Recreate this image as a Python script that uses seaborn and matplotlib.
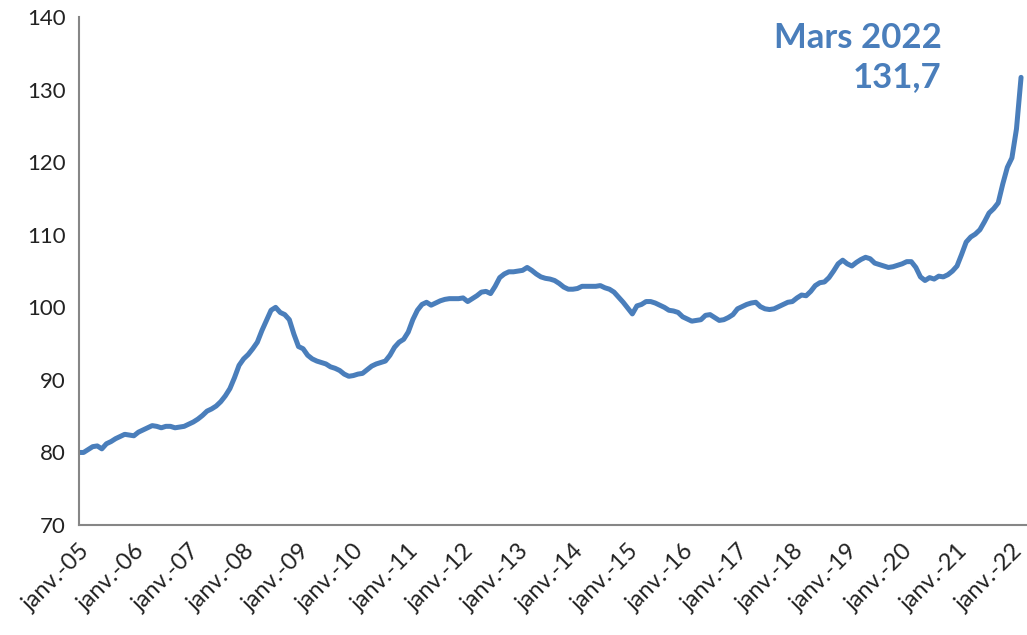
import numpy as np
import pandas as pd
import matplotlib
matplotlib.use("Agg")
import matplotlib.pyplot as plt
import seaborn as sns

# valeurs mensuelles (janv. 2005 -> mars 2022)
y2005 = [80.0, 80.0, 80.4, 80.8, 80.9, 80.5, 81.2, 81.5, 81.9, 82.2, 82.5, 82.4]
y2006 = [82.3, 82.8, 83.1, 83.4, 83.7, 83.6, 83.4, 83.6, 83.6, 83.4, 83.5, 83.6]
y2007 = [83.9, 84.2, 84.6, 85.1, 85.7, 86.0, 86.4, 87.0, 87.8, 88.8, 90.3, 92.0]
y2008 = [92.9, 93.5, 94.3, 95.2, 96.8, 98.2, 99.6, 100.0, 99.3, 99.0, 98.3, 96.3]
y2009 = [94.6, 94.3, 93.4, 92.9, 92.6, 92.4, 92.2, 91.8, 91.6, 91.3, 90.8, 90.5]
y2010 = [90.6, 90.8, 90.9, 91.4, 91.9, 92.2, 92.4, 92.6, 93.4, 94.5, 95.2, 95.6]
y2011 = [96.6, 98.3, 99.6, 100.4, 100.7, 100.3, 100.6, 100.9, 101.1, 101.2, 101.2, 101.2]
y2012 = [101.3, 100.8, 101.2, 101.6, 102.1, 102.2, 101.9, 102.9, 104.1, 104.6, 104.9, 104.9]
y2013 = [105.0, 105.1, 105.5, 105.1, 104.6, 104.2, 104.0, 103.9, 103.7, 103.3, 102.8, 102.5]
y2014 = [102.5, 102.6, 102.9, 102.9, 102.9, 102.9, 103.0, 102.7, 102.5, 102.1, 101.4, 100.7]
y2015 = [99.9, 99.1, 100.2, 100.4, 100.8, 100.8, 100.6, 100.3, 100.0, 99.6, 99.5, 99.3]
y2016 = [98.7, 98.4, 98.1, 98.2, 98.3, 98.9, 99.0, 98.6, 98.2, 98.3, 98.6, 99.0]
y2017 = [99.8, 100.1, 100.4, 100.6, 100.7, 100.1, 99.8, 99.7, 99.8, 100.1, 100.4, 100.7]
y2018 = [100.8, 101.3, 101.7, 101.6, 102.2, 103.0, 103.4, 103.5, 104.1, 105.0, 106.0, 106.5]
y2019 = [106.0, 105.7, 106.2, 106.6, 106.9, 106.7, 106.1, 105.9, 105.7, 105.5, 105.6, 105.8]
y2020 = [106.0, 106.3, 106.3, 105.5, 104.2, 103.7, 104.1, 103.9, 104.3, 104.2, 104.5, 105.0]
y2021 = [105.7, 107.3, 109.0, 109.7, 110.1, 110.7, 111.8, 113.0, 113.6, 114.4, 117.0, 119.3]
y2022 = [120.6, 124.6, 131.7]

valeurs = (y2005 + y2006 + y2007 + y2008 + y2009 + y2010 + y2011 + y2012 + y2013
           + y2014 + y2015 + y2016 + y2017 + y2018 + y2019 + y2020 + y2021 + y2022)
annees = list(range(2005, 2023))
etiquettes = ["janv.-%02d" % (a % 100) for a in annees]

df = pd.DataFrame({"mois": np.arange(len(valeurs)), "indice": valeurs})

sns.set_style("white")
plt.rcParams["font.family"] = ["Lato", "DejaVu Sans"]

bleu = "#4a7ebb"
gris = "#868686"

fig = plt.figure(figsize=(10.27, 6.35), dpi=100)
ax = fig.add_axes([0.0769, 0.1732, 0.9231, 0.7998])

sns.lineplot(data=df, x="mois", y="indice", color=bleu, linewidth=3.6, ax=ax)

ax.set_xlim(0, 207.3)
ax.set_ylim(70, 140)
ax.set_yticks(range(70, 141, 10))
ax.set_xticks([12 * i for i in range(len(annees))])
ax.set_xticklabels(etiquettes, rotation=45, ha="right", rotation_mode="anchor")
ax.set_xlabel("")
ax.set_ylabel("")

for s in ["top", "right"]:
    ax.spines[s].set_visible(False)
for s in ["left", "bottom"]:
    ax.spines[s].set_color(gris)
    ax.spines[s].set_linewidth(1.5)
ax.tick_params(axis="both", direction="out", length=6, width=1.5, color=gris,
               labelsize=16, labelcolor="#222222")
ax.tick_params(axis="x", pad=5, labelsize=17)

ax.text(0.917, 0.966, "Mars 2022\n131,7", transform=fig.transFigure, ha="right", va="top",
        fontsize=25, fontweight="bold", color=bleu, linespacing=1.3)

fig.savefig("out.png", dpi=100)
